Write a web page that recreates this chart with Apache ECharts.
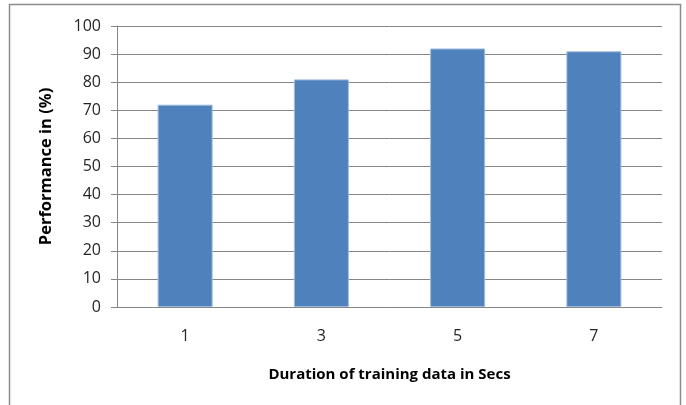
<!DOCTYPE html>
<html>
	<head>
		<meta charset="utf-8" />
		<title>Performance chart</title>
		<script type="text/javascript" src="https://cdn.jsdelivr.net/npm/echarts@6/dist/echarts.min.js"></script>
	</head>
	<body style="margin:0;">
		<div id="chart" style="width:686px;height:405px;"></div>
	</body>
	<script>
	// data
	var durations = ['1', '3', '5', '7'];
	var performance = [72, 81, 92, 91];
	var yTicks = [0, 100, 10]; // min, max, step

	var myChart = echarts.init(document.getElementById('chart'), null, { renderer: 'canvas' });
	var font = '"Open Sans", "Liberation Sans", sans-serif';

	var option = {
		animation: false,
		backgroundColor: '#fff',
		graphic: [{
			type: 'rect',
			shape: { x: 9.5, y: 4.5, width: 671, height: 420 },
			style: { fill: 'none', stroke: '#8c8c8c', lineWidth: 1.5 },
			silent: true
		}],
		grid: {
			left: 117,
			right: 24,
			top: 26,
			bottom: 98,
			containLabel: false
		},
		xAxis: {
			type: 'category',
			data: durations,
			name: 'Duration of training data in Secs',
			nameLocation: 'middle',
			nameGap: 60,
			nameTextStyle: { fontFamily: font, fontSize: 15, fontWeight: 'bold', color: '#000' },
			axisLine: { lineStyle: { color: '#868686', width: 1 } },
			axisTick: { show: false },
			axisLabel: { fontFamily: font, fontSize: 16, color: '#262626', margin: 21 }
		},
		yAxis: {
			type: 'value',
			min: yTicks[0],
			max: yTicks[1],
			interval: yTicks[2],
			name: 'Performance in (%)',
			nameLocation: 'middle',
			nameGap: 62,
			nameRotate: 90,
			nameTextStyle: { fontFamily: font, fontSize: 16.5, fontWeight: 'bold', color: '#000' },
			axisLine: { show: true, lineStyle: { color: '#868686', width: 1 } },
			axisTick: { show: true, length: 6, lineStyle: { color: '#868686' } },
			axisLabel: { fontFamily: font, fontSize: 16, color: '#262626', margin: 16 },
			splitLine: { show: true, lineStyle: { color: '#868686', width: 1 } }
		},
		series: [{
			type: 'bar',
			data: performance,
			barWidth: 55,
			itemStyle: { color: '#4f81bd', borderColor: '#9fbbdd', borderWidth: 1 }
		}]
	};
	myChart.setOption(option);
	</script>
</html>
